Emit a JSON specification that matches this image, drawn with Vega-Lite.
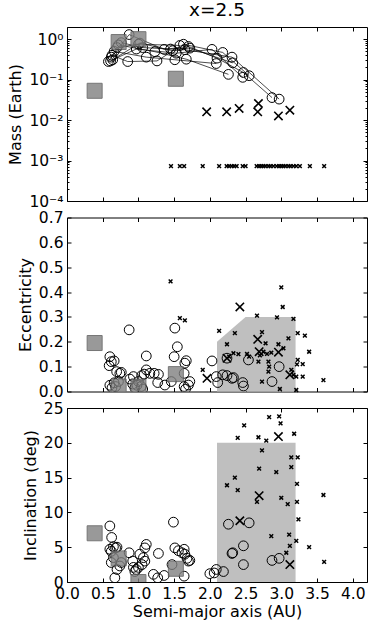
{
 "$schema": "https://vega.github.io/schema/vega-lite/v6.json",
 "padding": {"left": 7, "top": 0, "right": 4, "bottom": 5},
 "background": "white",
 "config": {
  "font": "DejaVu Sans",
  "view": {"stroke": "black", "strokeWidth": 1},
  "axis": {"domain": false, "grid": false, "tickColor": "black", "tickSize": -4, "tickWidth": 1, "labelFontSize": 15.5, "labelColor": "black", "titleFontSize": 16, "titleFontWeight": "normal", "titleColor": "black", "labelPadding": 8, "titlePadding": 5, "labelFlush": false, "labelOverlap": false}
 },
 "datasets": {
  "mass": [
   {"a":0.58,"m":0.28,"k":"p","s":1},{"a":0.87,"m":1.30,"k":"p","s":1},{"a":1.36,"m":0.56,"k":"p","s":1},{"a":1.70,"m":0.66,"k":"p","s":1},{"a":2.10,"m":0.34,"k":"p","s":1},{"a":2.47,"m":0.15,"k":"p","s":1},{"a":2.87,"m":0.036,"k":"p","s":1},
   {"a":0.61,"m":0.29,"k":"p","s":2},{"a":1.02,"m":0.80,"k":"p","s":2},{"a":1.48,"m":0.52,"k":"p","s":2},{"a":1.65,"m":0.55,"k":"p","s":2},{"a":2.31,"m":0.36,"k":"p","s":2},{"a":2.97,"m":0.033,"k":"p","s":2},
   {"a":0.64,"m":0.31,"k":"p","s":3},{"a":0.97,"m":0.57,"k":"p","s":3},{"a":1.53,"m":0.45,"k":"p","s":3},{"a":2.03,"m":0.56,"k":"p","s":3},{"a":2.46,"m":0.114,"k":"p","s":3},
   {"a":0.63,"m":0.40,"k":"p","s":4},{"a":0.85,"m":0.28,"k":"p","s":4},{"a":1.26,"m":0.29,"k":"p","s":4},{"a":1.63,"m":0.75,"k":"p","s":4},{"a":2.18,"m":0.47,"k":"p","s":4},{"a":2.55,"m":0.125,"k":"p","s":4},
   {"a":0.66,"m":0.50,"k":"p","s":5},{"a":1.11,"m":0.36,"k":"p","s":5},{"a":1.51,"m":0.31,"k":"p","s":5},{"a":2.09,"m":0.25,"k":"p","s":5},
   {"a":0.72,"m":0.72,"k":"p","s":6},{"a":1.23,"m":0.49,"k":"p","s":6},{"a":1.67,"m":0.32,"k":"p","s":6},{"a":2.26,"m":0.135,"k":"p","s":6},
   {"a":0.76,"m":0.82,"k":"p","s":7},{"a":1.06,"m":0.62,"k":"p","s":7},{"a":1.45,"m":0.57,"k":"p","s":7},{"a":1.72,"m":0.60,"k":"p","s":7},{"a":2.32,"m":0.26,"k":"p","s":7},
   {"a":0.62,"m":0.36,"k":"p","s":8},{"a":0.70,"m":0.62,"k":"p","s":8},{"a":1.00,"m":0.75,"k":"p","s":8},{"a":1.58,"m":0.70,"k":"p","s":8},
   {"a":1.955,"m":0.016,"k":"e","s":0},{"a":2.235,"m":0.016,"k":"e","s":0},{"a":2.41,"m":0.0194,"k":"e","s":0},{"a":2.68,"m":0.0257,"k":"e","s":0},{"a":2.67,"m":0.016,"k":"e","s":0},{"a":2.96,"m":0.0127,"k":"e","s":0},{"a":3.12,"m":0.0176,"k":"e","s":0},
   {"a":1.456,"m":0.00073,"k":"t","s":0},{"a":1.58,"m":0.00073,"k":"t","s":0},{"a":1.64,"m":0.00073,"k":"t","s":0},{"a":1.90,"m":0.00073,"k":"t","s":0},{"a":2.13,"m":0.00073,"k":"t","s":0},{"a":2.235,"m":0.00073,"k":"t","s":0},{"a":2.27,"m":0.00073,"k":"t","s":0},{"a":2.305,"m":0.00073,"k":"t","s":0},{"a":2.34,"m":0.00073,"k":"t","s":0},{"a":2.375,"m":0.00073,"k":"t","s":0},{"a":2.46,"m":0.00073,"k":"t","s":0},{"a":2.5,"m":0.00073,"k":"t","s":0},{"a":2.655,"m":0.00073,"k":"t","s":0},{"a":2.69,"m":0.00073,"k":"t","s":0},{"a":2.72,"m":0.00073,"k":"t","s":0},{"a":2.75,"m":0.00073,"k":"t","s":0},{"a":2.78,"m":0.00073,"k":"t","s":0},{"a":2.82,"m":0.00073,"k":"t","s":0},{"a":2.85,"m":0.00073,"k":"t","s":0},{"a":2.89,"m":0.00073,"k":"t","s":0},{"a":2.935,"m":0.00073,"k":"t","s":0},{"a":2.97,"m":0.00073,"k":"t","s":0},{"a":3.0,"m":0.00073,"k":"t","s":0},{"a":3.03,"m":0.00073,"k":"t","s":0},{"a":3.06,"m":0.00073,"k":"t","s":0},{"a":3.1,"m":0.00073,"k":"t","s":0},{"a":3.13,"m":0.00073,"k":"t","s":0},{"a":3.17,"m":0.00073,"k":"t","s":0},{"a":3.21,"m":0.00073,"k":"t","s":0},{"a":3.26,"m":0.00073,"k":"t","s":0},{"a":3.40,"m":0.00073,"k":"t","s":0},{"a":3.6,"m":0.00073,"k":"t","s":0}
  ],
  "ecc": [
   {"a":0.87,"e":0.248,"k":"p"},{"a":1.51,"e":0.255,"k":"p"},{"a":1.545,"e":0.18,"k":"p"},{"a":1.50,"e":0.14,"k":"p"},{"a":1.65,"e":0.114,"k":"p"},{"a":1.67,"e":0.124,"k":"p"},{"a":1.11,"e":0.143,"k":"p"},{"a":0.60,"e":0.14,"k":"p"},{"a":0.62,"e":0.12,"k":"p"},{"a":0.59,"e":0.104,"k":"p"},{"a":0.66,"e":0.123,"k":"p"},{"a":0.695,"e":0.08,"k":"p"},{"a":0.74,"e":0.073,"k":"p"},{"a":0.76,"e":0.077,"k":"p"},{"a":0.93,"e":0.06,"k":"p"},{"a":1.045,"e":0.064,"k":"p"},{"a":1.11,"e":0.087,"k":"p"},{"a":1.16,"e":0.073,"k":"p"},{"a":1.22,"e":0.073,"k":"p"},{"a":1.28,"e":0.069,"k":"p"},{"a":1.27,"e":0.036,"k":"p"},{"a":1.37,"e":0.026,"k":"p"},{"a":1.46,"e":0.04,"k":"p"},{"a":1.64,"e":0.073,"k":"p"},{"a":1.72,"e":0.04,"k":"p"},{"a":1.70,"e":0.026,"k":"p"},{"a":1.64,"e":0.02,"k":"p"},{"a":1.66,"e":0.01,"k":"p"},{"a":2.03,"e":0.123,"k":"p"},{"a":2.09,"e":0.06,"k":"p"},{"a":2.11,"e":0.036,"k":"p"},{"a":2.18,"e":0.067,"k":"p"},{"a":2.24,"e":0.064,"k":"p"},{"a":2.31,"e":0.053,"k":"p"},{"a":2.33,"e":0.056,"k":"p"},{"a":2.46,"e":0.036,"k":"p"},{"a":2.47,"e":0.022,"k":"p"},{"a":2.54,"e":0.127,"k":"p"},{"a":2.24,"e":0.134,"k":"p"},{"a":2.87,"e":0.04,"k":"p"},{"a":2.97,"e":0.1,"k":"p"},{"a":0.60,"e":0.025,"k":"p"},{"a":0.63,"e":0.015,"k":"p"},{"a":0.66,"e":0.035,"k":"p"},{"a":0.68,"e":0.02,"k":"p"},{"a":0.92,"e":0.03,"k":"p"},{"a":0.95,"e":0.015,"k":"p"},{"a":0.98,"e":0.025,"k":"p"},{"a":1.0,"e":0.04,"k":"p"},{"a":1.04,"e":0.02,"k":"p"},{"a":1.06,"e":0.01,"k":"p"},{"a":0.88,"e":0.05,"k":"p"},{"a":0.72,"e":0.04,"k":"p"},{"a":1.08,"e":0.07,"k":"p"},
   {"a":1.96,"e":0.053,"k":"e"},{"a":2.24,"e":0.134,"k":"e"},{"a":2.42,"e":0.34,"k":"e"},{"a":2.67,"e":0.21,"k":"e"},{"a":2.69,"e":0.16,"k":"e"},{"a":2.96,"e":0.158,"k":"e"},{"a":3.12,"e":0.067,"k":"e"},
   {"a":1.45,"e":0.443,"k":"t"},{"a":1.58,"e":0.295,"k":"t"},{"a":1.65,"e":0.286,"k":"t"},{"a":3.0,"e":0.419,"k":"t"},{"a":3.02,"e":0.34,"k":"t"},{"a":2.66,"e":0.305,"k":"t"},{"a":2.94,"e":0.298,"k":"t"},{"a":3.17,"e":0.292,"k":"t"},{"a":2.13,"e":0.244,"k":"t"},{"a":2.35,"e":0.235,"k":"t"},{"a":3.23,"e":0.235,"k":"t"},{"a":3.33,"e":0.225,"k":"t"},{"a":2.73,"e":0.239,"k":"t"},{"a":2.24,"e":0.19,"k":"t"},{"a":2.78,"e":0.194,"k":"t"},{"a":2.96,"e":0.19,"k":"t"},{"a":3.1,"e":0.214,"k":"t"},{"a":3.39,"e":0.16,"k":"t"},{"a":2.33,"e":0.154,"k":"t"},{"a":2.40,"e":0.15,"k":"t"},{"a":2.52,"e":0.151,"k":"t"},{"a":2.80,"e":0.151,"k":"t"},{"a":2.86,"e":0.156,"k":"t"},{"a":2.68,"e":0.12,"k":"t"},{"a":2.82,"e":0.12,"k":"t"},{"a":3.03,"e":0.174,"k":"t"},{"a":3.23,"e":0.127,"k":"t"},{"a":3.30,"e":0.11,"k":"t"},{"a":3.22,"e":0.109,"k":"t"},{"a":2.83,"e":0.10,"k":"t"},{"a":2.82,"e":0.08,"k":"t"},{"a":3.14,"e":0.087,"k":"t"},{"a":3.17,"e":0.067,"k":"t"},{"a":3.21,"e":0.06,"k":"t"},{"a":3.30,"e":0.06,"k":"t"},{"a":2.73,"e":0.04,"k":"t"},{"a":2.98,"e":0.01,"k":"t"},{"a":3.21,"e":0.006,"k":"t"},{"a":3.59,"e":0.046,"k":"t"},{"a":1.90,"e":0.087,"k":"t"},{"a":2.27,"e":0.14,"k":"t"},{"a":2.55,"e":0.14,"k":"t"},{"a":2.70,"e":0.145,"k":"t"},{"a":2.75,"e":0.16,"k":"t"}
  ],
  "inc": [
   {"a":0.60,"i":8.05,"k":"p"},{"a":0.625,"i":6.4,"k":"p"},{"a":0.60,"i":4.7,"k":"p"},{"a":0.65,"i":5.07,"k":"p"},{"a":0.68,"i":4.9,"k":"p"},{"a":0.70,"i":5.0,"k":"p"},{"a":0.62,"i":4.4,"k":"p"},{"a":0.65,"i":3.5,"k":"p"},{"a":0.67,"i":0.6,"k":"p"},{"a":0.62,"i":2.8,"k":"p"},{"a":0.74,"i":2.3,"k":"p"},{"a":0.70,"i":1.8,"k":"p"},{"a":0.87,"i":4.2,"k":"p"},{"a":0.92,"i":3.0,"k":"p"},{"a":0.93,"i":2.1,"k":"p"},{"a":0.97,"i":1.8,"k":"p"},{"a":1.0,"i":2.1,"k":"p"},{"a":0.95,"i":1.5,"k":"p"},{"a":1.02,"i":4.0,"k":"p"},{"a":1.07,"i":3.5,"k":"p"},{"a":1.11,"i":5.4,"k":"p"},{"a":1.09,"i":4.9,"k":"p"},{"a":1.09,"i":3.0,"k":"p"},{"a":1.21,"i":1.1,"k":"p"},{"a":1.27,"i":0.6,"k":"p"},{"a":1.28,"i":4.1,"k":"p"},{"a":1.36,"i":0.94,"k":"p"},{"a":1.49,"i":8.6,"k":"p"},{"a":1.51,"i":4.9,"k":"p"},{"a":1.56,"i":4.5,"k":"p"},{"a":1.61,"i":4.2,"k":"p"},{"a":1.64,"i":4.7,"k":"p"},{"a":1.65,"i":4.0,"k":"p"},{"a":1.68,"i":3.4,"k":"p"},{"a":1.70,"i":3.0,"k":"p"},{"a":1.72,"i":3.1,"k":"p"},{"a":1.47,"i":2.5,"k":"p"},{"a":1.64,"i":0.84,"k":"p"},{"a":2.0,"i":1.2,"k":"p"},{"a":2.06,"i":1.3,"k":"p"},{"a":2.09,"i":1.8,"k":"p"},{"a":2.19,"i":1.5,"k":"p"},{"a":2.26,"i":8.3,"k":"p"},{"a":2.31,"i":4.1,"k":"p"},{"a":2.32,"i":4.2,"k":"p"},{"a":2.47,"i":5.2,"k":"p"},{"a":2.47,"i":2.5,"k":"p"},{"a":2.55,"i":8.5,"k":"p"},{"a":2.87,"i":3.1,"k":"p"},{"a":2.97,"i":3.4,"k":"p"},{"a":1.05,"i":2.5,"k":"p"},{"a":0.76,"i":2.8,"k":"p"},
   {"a":2.42,"i":8.8,"k":"e"},{"a":2.69,"i":12.4,"k":"e"},{"a":2.96,"i":20.9,"k":"e"},{"a":3.12,"i":2.5,"k":"e"},
   {"a":2.83,"i":23.7,"k":"t"},{"a":2.97,"i":23.8,"k":"t"},{"a":2.99,"i":22.8,"k":"t"},{"a":2.48,"i":22.5,"k":"t"},{"a":2.39,"i":20.7,"k":"t"},{"a":2.68,"i":20.8,"k":"t"},{"a":2.79,"i":20.3,"k":"t"},{"a":3.18,"i":21.3,"k":"t"},{"a":2.73,"i":18.9,"k":"t"},{"a":3.14,"i":17.9,"k":"t"},{"a":3.23,"i":17.9,"k":"t"},{"a":2.69,"i":16.3,"k":"t"},{"a":2.93,"i":15.8,"k":"t"},{"a":3.14,"i":16.5,"k":"t"},{"a":3.22,"i":14.1,"k":"t"},{"a":2.35,"i":15.0,"k":"t"},{"a":2.24,"i":13.9,"k":"t"},{"a":2.39,"i":13.2,"k":"t"},{"a":3.59,"i":12.5,"k":"t"},{"a":3.0,"i":12.1,"k":"t"},{"a":2.66,"i":11.5,"k":"t"},{"a":3.09,"i":11.2,"k":"t"},{"a":3.22,"i":11.5,"k":"t"},{"a":3.24,"i":9.0,"k":"t"},{"a":2.86,"i":6.6,"k":"t"},{"a":3.11,"i":6.8,"k":"t"},{"a":3.21,"i":5.9,"k":"t"},{"a":3.12,"i":5.2,"k":"t"},{"a":3.39,"i":5.0,"k":"t"},{"a":3.07,"i":4.2,"k":"t"},{"a":3.6,"i":2.9,"k":"t"}
  ],
  "ss": [
   {"name":"Mercury","a":0.387,"m":0.053,"e":0.195,"i":7.0},
   {"name":"Venus","a":0.723,"m":0.85,"e":0.02,"i":3.39},
   {"name":"Earth","a":1.0,"m":1.0,"e":0.02,"i":0.0},
   {"name":"Mars","a":1.524,"m":0.105,"e":0.07,"i":1.9}
  ],
  "ezone": [{"a":2.1,"e":0.2},{"a":2.5,"e":0.3},{"a":3.2,"e":0.3}],
  "izone": [{"a1":2.1,"a2":3.2,"i1":0,"i2":20}]
 },
 "spacing": 16.5,
 "bounds": "flush",
 "vconcat": [
  {
   "width": 300, "height": 174,
   "title": {"text": "x=2.5", "fontSize": 18.5, "fontWeight": "normal", "color": "black", "anchor": "middle", "offset": 7.5},
   "resolve": {"axis": {"x": "independent", "y": "independent"}},
   "layer": [
    {
     "data": {"name": "mass"},
     "transform": [{"filter": "datum.k == 'p'"}],
     "mark": {"type": "line", "color": "black", "strokeWidth": 0.7},
     "encoding": {
      "x": {"field": "a", "type": "quantitative", "scale": {"domain": [0, 4.2], "nice": false, "zero": false}, "axis": {"orient": "bottom", "labels": false, "title": null, "values": [0,0.5,1,1.5,2,2.5,3,3.5,4]}},
      "y": {"field": "m", "type": "quantitative", "scale": {"type": "log", "domain": [0.0001, 2], "nice": false}, "axis": {"orient": "left", "title": "Mass (Earth)", "values": [0.0001,0.001,0.01,0.1,1], "labelExpr": "datum.value > 0.5 ? '10⁰' : datum.value > 0.05 ? '10⁻¹' : datum.value > 0.005 ? '10⁻²' : datum.value > 0.0005 ? '10⁻³' : '10⁻⁴'"}},
      "detail": {"field": "s", "type": "nominal"},
      "order": {"field": "a", "type": "quantitative"}
     }
    },
    {
     "data": {"name": "mass"},
     "transform": [{"filter": "datum.k == 'p'"}],
     "mark": {"type": "point", "shape": "circle", "filled": false, "color": "black", "strokeWidth": 1, "size": 95, "opacity": 1},
     "encoding": {
      "x": {"field": "a", "type": "quantitative", "scale": {"domain": [0, 4.2], "nice": false, "zero": false}, "axis": {"orient": "top", "labels": false, "title": null, "values": [0,0.5,1,1.5,2,2.5,3,3.5,4]}},
      "y": {"field": "m", "type": "quantitative", "scale": {"type": "log", "domain": [0.0001, 2], "nice": false}, "axis": {"orient": "right", "labels": false, "title": null, "values": [0.0001,0.001,0.01,0.1,1]}}
     }
    },
    {
     "data": {"name": "ss"},
     "mark": {"type": "point", "shape": "square", "filled": true, "fill": "#808080", "stroke": "#555555", "strokeWidth": 1, "size": 225, "opacity": 0.8, "clip": true},
     "encoding": {
      "x": {"field": "a", "type": "quantitative", "scale": {"domain": [0, 4.2], "nice": false, "zero": false}, "axis": null},
      "y": {"field": "m", "type": "quantitative", "scale": {"type": "log", "domain": [0.0001, 2], "nice": false}, "axis": {"orient": "left", "labels": false, "title": null, "tickSize": -2, "values": [0.0002,0.0003,0.0004,0.0005,0.0006,0.0007,0.0008,0.0009,0.002,0.003,0.004,0.005,0.006,0.007,0.008,0.009,0.02,0.03,0.04,0.05,0.06,0.07,0.08,0.09,0.2,0.3,0.4,0.5,0.6,0.7,0.8,0.9]}}
     }
    },
    {
     "data": {"name": "mass"},
     "transform": [{"filter": "datum.k == 'e'"}],
     "mark": {"type": "point", "shape": "M-1,-1L1,1M-1,1L1,-1", "filled": false, "color": "black", "strokeWidth": 1.6, "size": 70, "opacity": 1},
     "encoding": {
      "x": {"field": "a", "type": "quantitative", "scale": {"domain": [0, 4.2], "nice": false, "zero": false}, "axis": null},
      "y": {"field": "m", "type": "quantitative", "scale": {"type": "log", "domain": [0.0001, 2], "nice": false}, "axis": {"orient": "right", "labels": false, "title": null, "tickSize": -2, "values": [0.0002,0.0003,0.0004,0.0005,0.0006,0.0007,0.0008,0.0009,0.002,0.003,0.004,0.005,0.006,0.007,0.008,0.009,0.02,0.03,0.04,0.05,0.06,0.07,0.08,0.09,0.2,0.3,0.4,0.5,0.6,0.7,0.8,0.9]}}
     }
    },
    {
     "data": {"name": "mass"},
     "transform": [{"filter": "datum.k == 't'"}],
     "mark": {"type": "point", "shape": "M-1,-1L1,1M-1,1L1,-1", "filled": false, "color": "black", "strokeWidth": 1.5, "size": 14, "opacity": 1},
     "encoding": {
      "x": {"field": "a", "type": "quantitative", "scale": {"domain": [0, 4.2], "nice": false, "zero": false}, "axis": null},
      "y": {"field": "m", "type": "quantitative", "scale": {"type": "log", "domain": [0.0001, 2], "nice": false}, "axis": null}
     }
    }
   ]
  },
  {
   "width": 300, "height": 174,
   "resolve": {"axis": {"x": "independent", "y": "independent"}},
   "layer": [
    {
     "data": {"name": "ezone"},
     "mark": {"type": "area", "color": "#bfbfbf", "opacity": 1},
     "encoding": {
      "x": {"field": "a", "type": "quantitative", "scale": {"domain": [0, 4.2], "nice": false, "zero": false}, "axis": {"orient": "bottom", "labels": false, "title": null, "values": [0,0.5,1,1.5,2,2.5,3,3.5,4]}},
      "y": {"field": "e", "type": "quantitative", "scale": {"domain": [0, 0.7], "nice": false}, "axis": {"orient": "left", "title": "Eccentricity", "values": [0,0.1,0.2,0.3,0.4,0.5,0.6,0.7], "format": ".1f"}},
      "y2": {"datum": 0}
     }
    },
    {
     "data": {"name": "ecc"},
     "transform": [{"filter": "datum.k == 'p'"}],
     "mark": {"type": "point", "shape": "circle", "filled": false, "color": "black", "strokeWidth": 1, "size": 95, "opacity": 1, "clip": true},
     "encoding": {
      "x": {"field": "a", "type": "quantitative", "scale": {"domain": [0, 4.2], "nice": false, "zero": false}, "axis": {"orient": "top", "labels": false, "title": null, "values": [0,0.5,1,1.5,2,2.5,3,3.5,4]}},
      "y": {"field": "e", "type": "quantitative", "scale": {"domain": [0, 0.7], "nice": false}, "axis": {"orient": "right", "labels": false, "title": null, "values": [0,0.1,0.2,0.3,0.4,0.5,0.6,0.7]}}
     }
    },
    {
     "data": {"name": "ss"},
     "mark": {"type": "point", "shape": "square", "filled": true, "fill": "#808080", "stroke": "#555555", "strokeWidth": 1, "size": 225, "opacity": 0.8, "clip": true},
     "encoding": {
      "x": {"field": "a", "type": "quantitative", "scale": {"domain": [0, 4.2], "nice": false, "zero": false}, "axis": null},
      "y": {"field": "e", "type": "quantitative", "scale": {"domain": [0, 0.7], "nice": false}, "axis": null}
     }
    },
    {
     "data": {"name": "ecc"},
     "transform": [{"filter": "datum.k == 'e'"}],
     "mark": {"type": "point", "shape": "M-1,-1L1,1M-1,1L1,-1", "filled": false, "color": "black", "strokeWidth": 1.6, "size": 70, "opacity": 1},
     "encoding": {
      "x": {"field": "a", "type": "quantitative", "scale": {"domain": [0, 4.2], "nice": false, "zero": false}, "axis": null},
      "y": {"field": "e", "type": "quantitative", "scale": {"domain": [0, 0.7], "nice": false}, "axis": null}
     }
    },
    {
     "data": {"name": "ecc"},
     "transform": [{"filter": "datum.k == 't'"}],
     "mark": {"type": "point", "shape": "M-1,-1L1,1M-1,1L1,-1", "filled": false, "color": "black", "strokeWidth": 1.5, "size": 14, "opacity": 1},
     "encoding": {
      "x": {"field": "a", "type": "quantitative", "scale": {"domain": [0, 4.2], "nice": false, "zero": false}, "axis": null},
      "y": {"field": "e", "type": "quantitative", "scale": {"domain": [0, 0.7], "nice": false}, "axis": null}
     }
    }
   ]
  },
  {
   "width": 300, "height": 174,
   "resolve": {"axis": {"x": "independent", "y": "independent"}},
   "layer": [
    {
     "data": {"name": "izone"},
     "mark": {"type": "rect", "color": "#bfbfbf", "opacity": 1},
     "encoding": {
      "x": {"field": "a1", "type": "quantitative", "scale": {"domain": [0, 4.2], "nice": false, "zero": false}, "axis": {"orient": "bottom", "title": "Semi-major axis (AU)", "values": [0,0.5,1,1.5,2,2.5,3,3.5,4], "format": ".1f", "titlePadding": 2}},
      "x2": {"field": "a2"},
      "y": {"field": "i1", "type": "quantitative", "scale": {"domain": [0, 25], "nice": false}, "axis": {"orient": "left", "title": "Inclination (deg)", "values": [0,5,10,15,20,25], "format": "d"}},
      "y2": {"field": "i2"}
     }
    },
    {
     "data": {"name": "inc"},
     "transform": [{"filter": "datum.k == 'p'"}],
     "mark": {"type": "point", "shape": "circle", "filled": false, "color": "black", "strokeWidth": 1, "size": 95, "opacity": 1, "clip": true},
     "encoding": {
      "x": {"field": "a", "type": "quantitative", "scale": {"domain": [0, 4.2], "nice": false, "zero": false}, "axis": {"orient": "top", "labels": false, "title": null, "values": [0,0.5,1,1.5,2,2.5,3,3.5,4]}},
      "y": {"field": "i", "type": "quantitative", "scale": {"domain": [0, 25], "nice": false}, "axis": {"orient": "right", "labels": false, "title": null, "values": [0,5,10,15,20,25]}}
     }
    },
    {
     "data": {"name": "ss"},
     "mark": {"type": "point", "shape": "square", "filled": true, "fill": "#808080", "stroke": "#555555", "strokeWidth": 1, "size": 225, "opacity": 0.8, "clip": true},
     "encoding": {
      "x": {"field": "a", "type": "quantitative", "scale": {"domain": [0, 4.2], "nice": false, "zero": false}, "axis": null},
      "y": {"field": "i", "type": "quantitative", "scale": {"domain": [0, 25], "nice": false}, "axis": null}
     }
    },
    {
     "data": {"name": "inc"},
     "transform": [{"filter": "datum.k == 'e'"}],
     "mark": {"type": "point", "shape": "M-1,-1L1,1M-1,1L1,-1", "filled": false, "color": "black", "strokeWidth": 1.6, "size": 70, "opacity": 1},
     "encoding": {
      "x": {"field": "a", "type": "quantitative", "scale": {"domain": [0, 4.2], "nice": false, "zero": false}, "axis": null},
      "y": {"field": "i", "type": "quantitative", "scale": {"domain": [0, 25], "nice": false}, "axis": null}
     }
    },
    {
     "data": {"name": "inc"},
     "transform": [{"filter": "datum.k == 't'"}],
     "mark": {"type": "point", "shape": "M-1,-1L1,1M-1,1L1,-1", "filled": false, "color": "black", "strokeWidth": 1.5, "size": 14, "opacity": 1},
     "encoding": {
      "x": {"field": "a", "type": "quantitative", "scale": {"domain": [0, 4.2], "nice": false, "zero": false}, "axis": null},
      "y": {"field": "i", "type": "quantitative", "scale": {"domain": [0, 25], "nice": false}, "axis": null}
     }
    }
   ]
  }
 ]
}
